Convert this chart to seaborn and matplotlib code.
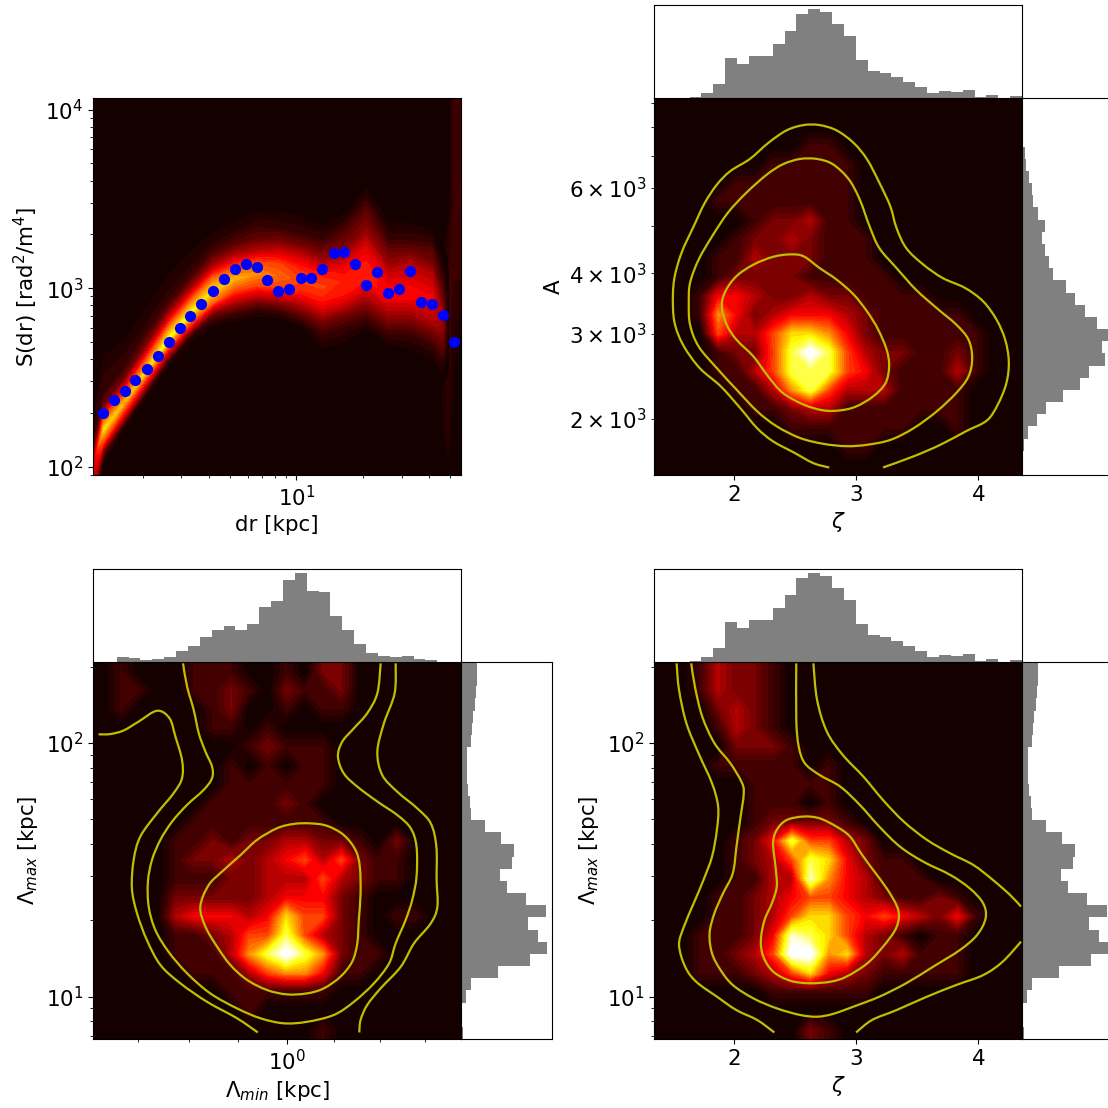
import numpy as np
import matplotlib
matplotlib.use('Agg')
import matplotlib.pyplot as plt
from matplotlib.colors import PowerNorm
from matplotlib.patches import PathPatch
from matplotlib.path import Path
from matplotlib.ticker import FixedLocator, NullFormatter
import seaborn as sns

# --- axis ranges
DR_LIM = (1.19, 55.9)
S_LIM = (89.8, 11620)
ZETA_LIM = (1.345, 4.358)
A_LIM = (1533, 9202)
LMIN_LIM = (0.173, 4.84)
LMAX_LIM = (6.81, 208.5)
LMIN_MINOR = [0.261, 0.411, 0.641, 1.53, 2.32, 3.49]

# --- structure function points
DR_POINTS = [1.326, 1.477, 1.657, 1.853, 2.085, 2.339, 2.634, 2.955, 3.292, 3.693, 4.157,
             4.663, 5.25, 5.89, 6.61, 7.36, 8.26, 9.29, 10.43, 11.7, 13.12, 14.77, 16.4,
             18.46, 20.71, 23.24, 26.06, 29.34, 32.92, 36.68, 41.28, 46.3, 51.95]
S_POINTS = [200, 236, 265, 306, 354, 415, 499, 595, 694, 814, 970, 1128, 1288, 1368, 1311,
            1113, 966, 991, 1147, 1133, 1272, 1576, 1597, 1368, 1035, 1239, 942, 991, 1250,
            839, 814, 704, 501]

# --- structure function density along its ridge: each column gives the density at
# --- RIDGE_STEPS steps (of 0.0652 dex) above and below the ridge value for that dr
RIDGE_DR = [1.19, 1.326, 1.657, 2.085, 2.634, 3.292, 4.157, 5.25, 6.61, 8.26, 10.43, 13.12,
            16.4, 20.71, 26.06, 32.92, 41.28, 46.3, 49]
RIDGE_S = [99.8, 160, 230, 346, 521, 719, 970, 1128, 1203, 1177, 1104, 1013, 1104, 1311, 1013,
           1013, 890, 700, 700]
RIDGE_STEPS = [7, 6, 5, 4, 3, 2, 1, 0, -1, -2, -3, -4, -5, -6]
RIDGE_COLS = [
    [0, 0, 0, .5, .5, 1, 2, 3, 3, 3, 2, 1, 0, 0],
    [0, .5, .5, 1, 1, 2, 5, 7, 5, 1.5, 0, 0, 0, 0],
    [0, 0, .5, .7, 1, 2, 4.5, 6.5, 4, .5, 0, 0, 0, 0],
    [0, 0, .5, .7, 1.2, 2.5, 5, 7, 4, .5, 0, 0, 0, 0],
    [0, .2, .5, .7, 1.2, 3, 5.5, 7.5, 4, .5, 0, 0, 0, 0],
    [0, 0, .5, .7, 1.2, 3, 5.5, 7.5, 4.5, .7, 0, 0, 0, 0],
    [0, 0, .3, .7, 1.5, 3, 5.5, 7, 5.5, 2, .3, 0, 0, 0],
    [0, 0, .3, .7, 1.5, 3, 5, 6.5, 5, 3, 1, 0, 0, 0],
    [0, 0, .5, 1, 1.7, 3, 5, 6, 5, 3, 1, 0, 0, 0],
    [0, .2, .5, 1, 2, 3.5, 5, 5.5, 5, 3, 1, 0, 0, 0],
    [0, .2, .5, 1, 2, 3.5, 4.5, 5, 4.5, 3, 1.5, .2, 0, 0],
    [0, 0, .5, 1, 2, 3, 4.5, 5, 4.5, 3.5, 2, 1, .5, 0],
    [0, .2, .7, 1.5, 2, 3, 4, 4.5, 4.5, 3.5, 2, 1, .5, 0],
    [.2, .7, 1.5, 2, 2.5, 3.5, 4, 4.5, 4.5, 3.5, 2.5, 1.5, .5, 0],
    [0, .2, .5, 1, 2, 2.5, 3.5, 4, 4, 3, 2, 1, .3, 0],
    [0, .2, .5, 1, 2, 3, 3.5, 4, 4, 3, 2, 1, .5, 0],
    [0, .2, .7, 1.5, 2, 3, 3.5, 4, 3.5, 3, 2, 1, .5, 0],
    [0, 0, .2, .5, 1, 1.5, 2, 2.5, 2.5, 2, 1.5, .7, .3, 0],
    [0]*14,
]
# --- faint streak at the largest separations, rows from high S to low S
STREAK_DR = [44, 49, 52, 55.9]
STREAK_S = [11620, 3000, 1500, 900, 500, 300, 150, 100, 90]
STREAK_GRID = [
    [0, 0, 1, 1],
    [0, 0, 1, 1.2],
    [0, .8, 1, 1],
    [0, 1, .8, .8],
    [0, 1, .5, .2],
    [0, .8, .2, 0],
    [0, .6, 0, 0],
    [0, .2, 0, 0],
    [0, 0, 0, 0],
]

# --- posterior densities, rows from top of the panel to the bottom
ZETA_A_GRID = [
    [0]*20,
    [0]*20,
    [0, 0, 0, 0, 0, 0, 0, 0, 1, 1, 0, 0, 0, 0, 0, 0, 0, 0, 0, 0],
    [0, 0, 0, 0, 0, 0, 1, 1, 1, 1, 1, 0, 0, 0, 0, 0, 0, 0, 0, 0],
    [0, 0, 0, 0, 1, 1, 1, 1, 1, 1, 1, 0, 0, 0, 0, 0, 0, 0, 0, 0],
    [0, 0, 0, 1, 1, 1, 1, 1, 1, 1, 1, 0, 0, 0, 0, 0, 0, 0, 0, 0],
    [0, 0, 0, 0, 0, 1, 2, 2, 3, 1, 1, 0, 0, 0, 0, 0, 0, 0, 0, 0],
    [0, 0, 0, 0, 1, 2, 2, 3, 2, 1, 1, 1, 0, 0, 0, 0, 0, 0, 0, 0],
    [0, 0, 0, 1, 1, 3, 2, 2, 2, 1, 1, 1, 0, 0, 0, 0, 0, 0, 0, 0],
    [0, 0, 0, 1, 2, 2, 2, 2, 1, 1, 1, 1, 1, 0, 0, 0, 0, 0, 0, 0],
    [0, 0, 1, 4, 4, 3, 2, 2, 3, 2, 2, 1, 1, 1, 1, 0, 0, 0, 0, 0],
    [0, 0, 1, 6, 4, 2, 3, 4, 4, 4, 3, 2, 1, 1, 1, 1, 1, 0, 0, 0],
    [0, 0, 0, 5, 3, 3, 5, 7, 7, 6, 4, 2, 1, 1, 1, 1, 1, 1, 0, 0],
    [0, 0, 0, 1, 2, 2, 5, 8, 10, 8, 5, 3, 2, 2, 1, 1, 2, 1, 0, 0],
    [0, 0, 0, 1, 1, 3, 5, 8, 8, 8, 5, 4, 2, 1, 1, 1, 3, 1, 0, 0],
    [0, 0, 0, 0, 1, 1, 3, 6, 8, 5, 3, 3, 3, 1, 1, 1, 1, 0, 0, 0],
    [0, 0, 0, 0, 0, 1, 1, 2, 3, 3, 1, 1, 1, 1, 1, 1, 1, 0, 0, 0],
    [0, 0, 0, 0, 0, 0, 0, 1, 1, 1, 1, 1, 1, 1, 0, 0, 1, 0, 0, 0],
    [0, 0, 0, 0, 0, 0, 0, 0, 0, 0, 1, 1, 0, 0, 0, 0, 0, 0, 0, 0],
    [0]*20,
]
LMIN_LMAX_GRID = [
    [0, 1, 0, 0, 0, 1, 1, 1, 0, 0, 1, 0, 2, 2, 0, 0, 0, 0, 0, 0],
    [0, 1, 1, 0, 0, 1, 1, 2, 1, 0, 2, 1, 1, 2, 0, 0, 0, 0, 0, 0],
    [0, 1, 0, 0, 0, 0, 1, 2, 0, 0, 1, 0, 1, 1, 0, 0, 0, 0, 0, 0],
    [0, 0, 0, 0, 0, 0, 1, 1, 0, 1, 0, 0, 0, 0, 0, 0, 0, 0, 0, 0],
    [0, 0, 0, 0, 0, 0, 0, 0, 1, 2, 1, 1, 1, 0, 0, 0, 0, 0, 0, 0],
    [0, 0, 0, 0, 0, 0, 0, 1, 0, 1, 0, 1, 1, 0, 0, 0, 0, 0, 0, 0],
    [0, 0, 0, 0, 0, 0, 0, 1, 1, 1, 1, 1, 1, 0, 0, 0, 0, 0, 0, 0],
    [0, 0, 0, 0, 0, 0, 1, 1, 1, 1, 2, 1, 0, 0, 0, 0, 0, 0, 0, 0],
    [0, 0, 0, 0, 0, 1, 1, 1, 1, 1, 1, 1, 1, 0, 0, 0, 0, 0, 0, 0],
    [0, 0, 0, 0, 1, 1, 2, 1, 2, 2, 3, 3, 2, 2, 1, 0, 2, 0, 0, 0],
    [0, 0, 0, 0, 1, 2, 2, 3, 2, 3, 4, 5, 3, 5, 2, 1, 1, 0, 0, 0],
    [0, 0, 0, 0, 1, 1, 1, 2, 2, 3, 3, 3, 5, 3, 2, 1, 1, 0, 0, 0],
    [0, 0, 0, 0, 2, 2, 2, 2, 2, 3, 4, 4, 4, 2, 1, 0, 0, 0, 0, 0],
    [0, 0, 0, 0, 3, 4, 4, 4, 3, 4, 7, 5, 5, 2, 1, 0, 1, 1, 0, 0],
    [0, 0, 0, 0, 1, 1, 2, 3, 5, 5, 8, 5, 3, 2, 1, 0, 0, 0, 0, 0],
    [0, 0, 0, 0, 1, 1, 1, 3, 6, 8, 10, 8, 6, 2, 1, 1, 0, 0, 0, 0],
    [0, 0, 0, 0, 0, 1, 1, 1, 3, 5, 6, 6, 4, 1, 1, 0, 0, 0, 0, 0],
    [0, 0, 0, 0, 0, 0, 0, 1, 1, 1, 1, 1, 1, 0, 0, 0, 0, 0, 0, 0],
    [0, 0, 0, 0, 0, 0, 0, 0, 1, 0, 0, 0, 0, 0, 0, 0, 0, 0, 0, 0],
    [0, 0, 0, 0, 0, 0, 0, 0, 0, 0, 0, 0, 1, 0, 0, 0, 0, 0, 0, 0],
]
ZETA_LMAX_GRID = [
    [0, 0, 1, 3, 2, 2, 1, 0, 0, 0, 0, 0, 0, 0, 0, 0, 0, 0, 0, 0],
    [0, 0, 1, 3, 2, 2, 1, 0, 0, 0, 0, 0, 0, 0, 0, 0, 0, 0, 0, 0],
    [0, 0, 0, 2, 3, 2, 1, 0, 0, 0, 0, 0, 0, 0, 0, 0, 0, 0, 0, 0],
    [0, 0, 0, 1, 3, 2, 1, 0, 0, 0, 0, 0, 0, 0, 0, 0, 0, 0, 0, 0],
    [0, 0, 0, 0, 2, 2, 2, 1, 0, 0, 0, 0, 0, 0, 0, 0, 0, 0, 0, 0],
    [0, 0, 0, 1, 1, 1, 1, 1, 0, 1, 0, 0, 0, 0, 0, 0, 0, 0, 0, 0],
    [0, 0, 0, 0, 0, 1, 1, 1, 1, 1, 0, 0, 0, 0, 0, 0, 0, 0, 0, 0],
    [0, 0, 0, 0, 0, 1, 1, 1, 0, 1, 0, 0, 0, 0, 0, 0, 0, 0, 0, 0],
    [0, 0, 0, 0, 0, 1, 2, 2, 2, 2, 1, 0, 0, 0, 0, 0, 0, 0, 0, 0],
    [0, 0, 0, 0, 1, 2, 4, 8, 5, 5, 3, 2, 0, 0, 0, 0, 0, 0, 0, 0],
    [0, 0, 0, 0, 1, 2, 3, 5, 8, 7, 4, 2, 1, 1, 0, 0, 0, 0, 0, 0],
    [0, 0, 0, 0, 1, 1, 3, 3, 9, 6, 4, 3, 1, 1, 1, 0, 0, 0, 0, 0],
    [0, 0, 0, 1, 1, 2, 3, 4, 5, 5, 4, 3, 2, 1, 1, 2, 1, 0, 0, 0],
    [0, 0, 0, 1, 1, 2, 3, 5, 7, 7, 5, 4, 5, 4, 3, 2, 4, 1, 0, 0],
    [0, 0, 1, 1, 1, 2, 4, 9, 8, 7, 5, 3, 2, 1, 0, 1, 1, 0, 0, 0],
    [0, 0, 1, 1, 2, 3, 5, 10, 10, 6, 7, 3, 2, 3, 1, 1, 1, 0, 0, 0],
    [0, 0, 1, 1, 1, 2, 3, 5, 7, 4, 3, 2, 1, 1, 1, 1, 1, 0, 0, 0],
    [0, 0, 0, 0, 0, 0, 1, 1, 1, 1, 1, 1, 0, 0, 0, 0, 0, 0, 0, 0],
    [0]*20,
    [0, 0, 0, 0, 0, 0, 0, 0, 2, 1, 0, 0, 0, 0, 0, 0, 0, 0, 0, 0],
]

# --- marginal histograms
ZETA_HIST = [0, 0, 1, 4, 15, 42, 119, 102, 125, 125, 162, 202, 252, 266, 259, 222, 185, 115, 82,
             76, 62, 48, 32, 14, 22, 19, 25, 4, 8, 1, 5]
LMIN_HIST = [0, 0, 15, 11, 7, 9, 16, 32, 49, 75, 96, 109, 95, 113, 165, 183, 246, 266, 213, 209,
             139, 96, 55, 28, 18, 15, 19, 10, 6, 1, 0]
# these two run from the top of the panel down
LMAX_HIST = [48, 48, 46, 42, 35, 32, 31, 18, 19, 19, 22, 27, 31, 72, 121, 159, 155, 117, 139, 196,
             255, 201, 231, 259, 209, 111, 31, 15, 0, 0, 7]
A_HIST = [0, 0, 0, 3, 8, 13, 22, 31, 32, 49, 68, 61, 68, 82, 92, 132, 160, 190, 225, 265, 240,
          250, 202, 175, 122, 72, 45, 18, 7, 3, 0]

# --- credible contours, zeta vs log10(A)
ZA_INNER_Z = [1.90, 1.93, 2.02, 2.16, 2.32, 2.46, 2.57, 2.70, 2.84, 2.98, 3.09, 3.18, 3.25, 3.27,
              3.24, 3.14, 3.00, 2.87, 2.73, 2.57, 2.40, 2.28, 2.16, 2.02, 1.94, 1.90]
ZA_INNER_A = [3.534, 3.565, 3.596, 3.620, 3.636, 3.641, 3.637, 3.613, 3.589, 3.558, 3.523, 3.486,
              3.444, 3.410, 3.375, 3.348, 3.327, 3.319, 3.319, 3.331, 3.355, 3.389, 3.430, 3.465,
              3.496, 3.534]
ZA_MID_Z = [1.63, 1.64, 1.71, 1.82, 1.95, 2.10, 2.27, 2.40, 2.54, 2.68, 2.81, 2.94, 3.03, 3.11,
            3.19, 3.33, 3.49, 3.66, 3.82, 3.92, 3.95, 3.92, 3.82, 3.66, 3.47, 3.28, 3.09, 2.92,
            2.73, 2.54, 2.35, 2.19, 2.02, 1.86, 1.71, 1.64, 1.63]
ZA_MID_A = [3.541, 3.582, 3.630, 3.678, 3.727, 3.768, 3.806, 3.827, 3.838, 3.838, 3.827, 3.796,
            3.754, 3.699, 3.654, 3.613, 3.568, 3.530, 3.496, 3.465, 3.427, 3.389, 3.355, 3.317,
            3.282, 3.258, 3.248, 3.245, 3.250, 3.262, 3.286, 3.317, 3.362, 3.406, 3.451, 3.496,
            3.541]
ZA_OUTER_Z = [2.78, 2.65, 2.49, 2.32, 2.19, 2.05, 1.89, 1.72, 1.59, 1.52, 1.50, 1.51, 1.57, 1.67,
              1.76, 1.86, 1.97, 2.13, 2.28, 2.43, 2.57, 2.70, 2.84, 2.98, 3.09, 3.19, 3.28, 3.33,
              3.41, 3.55, 3.71, 3.89, 4.04, 4.15, 4.22, 4.25, 4.23, 4.16, 4.07, 3.90, 3.69, 3.47,
              3.22]
ZA_OUTER_A = [3.201, 3.210, 3.232, 3.255, 3.282, 3.324, 3.369, 3.406, 3.451, 3.493, 3.534, 3.589,
              3.644, 3.699, 3.747, 3.785, 3.813, 3.838, 3.871, 3.897, 3.908, 3.908, 3.897, 3.871,
              3.837, 3.789, 3.740, 3.696, 3.654, 3.620, 3.592, 3.572, 3.544, 3.506, 3.465, 3.420,
              3.375, 3.331, 3.298, 3.276, 3.248, 3.224, 3.201]

# --- credible contours, log10(Lambda_min) vs log10(Lambda_max)
LL_INNER_MIN = [-.340, -.307, -.248, -.182, -.117, -.038, .028, .093, .159, .224, .270, .287, .290,
                .283, .277, .257, .211, .146, .080, .001, -.077, -.156, -.222, -.274, -.320, -.340]
LL_INNER_MAX = [1.355, 1.440, 1.499, 1.558, 1.618, 1.664, 1.681, 1.683, 1.673, 1.637, 1.578, 1.512,
                1.407, 1.302, 1.210, 1.138, 1.079, 1.033, 1.013, 1.009, 1.026, 1.066, 1.125, 1.197,
                1.276, 1.355]
LL_MID_MIN = [-.408, -.392, -.366, -.346, -.320, -.294, -.294, -.327, -.392, -.451, -.497, -.530,
              -.546, -.543, -.517, -.465, -.392, -.301, -.196, -.104, -.012, .080, .185, .264, .343,
              .402, .428, .467, .493, .510, .510, .487, .434, .356, .277, .224, .201, .218, .264,
              .316, .356, .369]
LL_MID_MAX = [2.314, 2.222, 2.130, 2.038, 1.966, 1.907, 1.861, 1.815, 1.756, 1.690, 1.618, 1.539,
              1.453, 1.355, 1.263, 1.177, 1.092, 1.013, .954, .915, .895, .901, .928, .980, 1.053,
              1.131, 1.210, 1.302, 1.381, 1.473, 1.591, 1.664, 1.716, 1.769, 1.828, 1.880, 1.946,
              2.005, 2.058, 2.117, 2.196, 2.314]
LL_LEFT_MIN = [-.740, -.694, -.642, -.583, -.510, -.461, -.438, -.412, -.412, -.445, -.510, -.576,
               -.602, -.609, -.589, -.550, -.497, -.419, -.314, -.196, -.114]
LL_LEFT_MAX = [2.034, 2.035, 2.049, 2.084, 2.127, 2.097, 2.025, 1.933, 1.861, 1.802, 1.723, 1.631,
               1.539, 1.427, 1.329, 1.223, 1.125, 1.053, .980, .915, .859]
LL_RIGHT_MIN = [.428, .424, .382, .356, .375, .434, .513, .566, .588, .589, .592, .566, .500, .448,
                .369, .316, .290, .285]
LL_RIGHT_MAX = [2.314, 2.196, 2.078, 1.966, 1.874, 1.808, 1.742, 1.683, 1.591, 1.460, 1.355, 1.289,
                1.210, 1.118, 1.033, .967, .908, .859]

# --- credible contours, zeta vs log10(Lambda_max)
ZL_INNER_Z = [2.32, 2.35, 2.43, 2.57, 2.70, 2.84, 2.95, 3.04, 3.14, 3.25, 3.33, 3.35, 3.32, 3.22,
              3.09, 2.92, 2.79, 2.62, 2.46, 2.32, 2.24, 2.22, 2.25, 2.31, 2.35, 2.34, 2.32]
ZL_INNER_L = [1.604, 1.657, 1.696, 1.710, 1.703, 1.670, 1.631, 1.565, 1.499, 1.427, 1.361, 1.315,
              1.263, 1.197, 1.131, 1.079, 1.059, 1.053, 1.063, 1.099, 1.158, 1.223, 1.302, 1.368,
              1.434, 1.512, 1.604]
ZL_MID_Z = [1.65, 1.68, 1.74, 1.84, 1.97, 2.06, 2.08, 2.05, 2.02, 1.99, 1.91, 1.84, 1.80, 1.82,
            1.89, 1.99, 2.16, 2.35, 2.54, 2.68, 2.81, 2.98, 3.19, 3.41, 3.63, 3.85, 3.99, 4.06,
            4.04, 3.93, 3.77, 3.55, 3.36, 3.19, 3.03, 2.87, 2.70, 2.58, 2.53, 2.51, 2.51]
ZL_MID_L = [2.314, 2.222, 2.104, 1.999, 1.920, 1.848, 1.802, 1.696, 1.591, 1.486, 1.407, 1.329,
            1.250, 1.171, 1.105, 1.046, .993, .954, .928, .921, .932, .961, 1.000, 1.053, 1.118,
            1.184, 1.243, 1.309, 1.368, 1.427, 1.480, 1.532, 1.591, 1.670, 1.756, 1.828, 1.874,
            1.920, 1.986, 2.091, 2.314]
ZL_LEFT_Z = [1.53, 1.55, 1.61, 1.71, 1.82, 1.87, 1.86, 1.82, 1.75, 1.67, 1.59, 1.55, 1.60, 1.69,
             1.86, 2.02, 2.19, 2.33]
ZL_LEFT_L = [2.314, 2.209, 2.078, 1.959, 1.841, 1.749, 1.657, 1.552, 1.460, 1.368, 1.276, 1.204,
             1.118, 1.059, 1.000, .947, .908, .859]
ZL_RIGHT_Z = [2.65, 2.68, 2.76, 2.89, 3.06, 3.22, 3.39, 3.58, 3.77, 3.96, 4.12, 4.26, 4.35]
ZL_RIGHT_L = [2.314, 2.170, 2.045, 1.953, 1.867, 1.775, 1.690, 1.618, 1.565, 1.519, 1.460, 1.401,
              1.355]
ZL_BOTTOM_Z = [3.00, 3.13, 3.33, 3.58, 3.82, 4.04, 4.20, 4.35]
ZL_BOTTOM_L = [.859, .908, .947, 1.000, 1.046, 1.085, 1.138, 1.217]

FIG_PX = 1108
RIDGE_DEX = 0.0652
BASE_COLOR = plt.get_cmap('hot')(0.016)
HEAT_NORM = PowerNorm(gamma=1.25, vmin=-0.2, vmax=9.5)


def px_axes(fig, left, top, right, bottom):
    """Add axes from pixel edges measured from the top left corner."""
    return fig.add_axes([left / FIG_PX, 1 - bottom / FIG_PX,
                         (right - left) / FIG_PX, (bottom - top) / FIG_PX])


def cell_centres(lim, n, log=False):
    """Centres of n equal cells over an axis range."""
    if log:
        edges = np.linspace(np.log10(lim[0]), np.log10(lim[1]), n + 1)
        return 10 ** ((edges[:-1] + edges[1:]) / 2)
    edges = np.linspace(lim[0], lim[1], n + 1)
    return (edges[:-1] + edges[1:]) / 2


def draw_density(ax, x, y, grid, xlim, ylim, xlog):
    """Filled contours of a grid of cell values, held flat out to the axes edges."""
    ax.set_facecolor(BASE_COLOR)
    if xlog:
        ax.set_xscale('log')
    ax.set_yscale('log')
    x = np.concatenate([[xlim[0]], x, [xlim[1]]])
    y = np.concatenate([[ylim[1]], y, [ylim[0]]])
    values = np.pad(np.array(grid, dtype=float), 1, mode='edge')
    ax.contourf(x, y, values, levels=np.linspace(0, 9.5, 30), cmap='hot', norm=HEAT_NORM,
                extend='max')
    ax.set_xlim(xlim)
    ax.set_ylim(ylim)


def draw_line(ax, x, y):
    """Draw one contour as a curve through its points, bending in the axes' scaled space."""
    fwd_x, fwd_y = ax.xaxis.get_transform(), ax.yaxis.get_transform()
    pts = np.column_stack([fwd_x.transform(np.asarray(x, dtype=float)),
                           fwd_y.transform(np.asarray(y, dtype=float))])
    closed = np.allclose(pts[0], pts[-1])
    n = len(pts)
    verts, codes = [pts[0]], [Path.MOVETO]
    for i in range(n - 1):
        if closed:
            before, after = pts[(i - 1) % (n - 1)], pts[(i + 2) % (n - 1)]
        else:
            before, after = pts[max(i - 1, 0)], pts[min(i + 2, n - 1)]
        verts += [pts[i] + (pts[i + 1] - before) / 6, pts[i + 1] - (after - pts[i]) / 6, pts[i + 1]]
        codes += [Path.CURVE4] * 3
    verts = np.array(verts)
    verts = np.column_stack([fwd_x.inverted().transform(verts[:, 0]),
                             fwd_y.inverted().transform(verts[:, 1])])
    ax.add_patch(PathPatch(Path(verts, codes), fill=False, edgecolor='y', linewidth=1.6, zorder=3))


def top_hist(ax, counts, lim, log=False):
    binrange = (np.log10(lim[0]), np.log10(lim[1])) if log else lim
    sns.histplot(x=cell_centres(lim, len(counts), log), weights=counts, bins=len(counts),
                 binrange=binrange, log_scale=(log, False), color='gray', alpha=1,
                 linewidth=0, ax=ax)
    ax.set_xlim(lim)
    ax.set_ylim(0, 279)
    ax.set_xlabel('')
    ax.set_ylabel('')
    ax.minorticks_off()
    ax.tick_params(left=False, bottom=False, labelleft=False, labelbottom=False, which='both')


def right_hist(ax, counts, lim):
    binrange = (np.log10(lim[0]), np.log10(lim[1]))
    sns.histplot(y=cell_centres(lim, len(counts), True), weights=counts[::-1], bins=len(counts),
                 binrange=binrange, log_scale=(False, True), color='gray', alpha=1,
                 linewidth=0, ax=ax)
    ax.set_ylim(lim)
    ax.set_xlim(0, 274)
    ax.set_xlabel('')
    ax.set_ylabel('')
    ax.minorticks_off()
    ax.tick_params(left=False, bottom=False, labelleft=False, labelbottom=False, which='both')


plt.rcParams['font.size'] = 15.4
plt.rcParams['axes.labelsize'] = 15.4
plt.rcParams['xtick.labelsize'] = 15.4
plt.rcParams['ytick.labelsize'] = 15.4

fig = plt.figure(figsize=(FIG_PX / 100, FIG_PX / 100), dpi=100)

# top left: structure function
ax_sf = px_axes(fig, 93, 98, 461, 475)
ax_sf.set_facecolor(BASE_COLOR)
ax_sf.set_xscale('log')
ax_sf.set_yscale('log')
ax_sf.contourf(STREAK_DR, STREAK_S, np.array(STREAK_GRID), levels=np.linspace(0.03, 2, 8),
               cmap='hot', norm=HEAT_NORM)
ridge_x = np.tile(RIDGE_DR, (len(RIDGE_STEPS), 1))
ridge_y = np.outer(10 ** (np.array(RIDGE_STEPS) * RIDGE_DEX), RIDGE_S)
ax_sf.contourf(ridge_x, ridge_y, np.array(RIDGE_COLS, dtype=float).T,
               levels=np.linspace(0.03, 9.5, 30), cmap='hot', norm=HEAT_NORM, extend='max')
sns.scatterplot(x=DR_POINTS, y=S_POINTS, color='blue', s=65, linewidth=0, ax=ax_sf, zorder=5)
ax_sf.set_xlim(DR_LIM)
ax_sf.set_ylim(S_LIM)
ax_sf.set_xlabel('dr [kpc]')
ax_sf.set_ylabel('S(dr) [rad$^2$/m$^4$]')

# top right: zeta vs A
ax_za = px_axes(fig, 654, 98, 1022, 475)
draw_density(ax_za, cell_centres(ZETA_LIM, 20), cell_centres(A_LIM, 20, True)[::-1], ZETA_A_GRID,
             ZETA_LIM, A_LIM, False)
draw_line(ax_za, ZA_INNER_Z, 10 ** np.array(ZA_INNER_A))
draw_line(ax_za, ZA_MID_Z, 10 ** np.array(ZA_MID_A))
draw_line(ax_za, ZA_OUTER_Z, 10 ** np.array(ZA_OUTER_A))
ax_za.set_xlabel(r'$\zeta$')
ax_za.set_ylabel('A')
top_hist(px_axes(fig, 654, 5, 1022, 98), ZETA_HIST, ZETA_LIM)
right_hist(px_axes(fig, 1022, 98, 1113, 475), A_HIST, A_LIM)

# bottom left: Lambda_min vs Lambda_max
ax_ll = px_axes(fig, 93, 662, 461, 1039)
draw_density(ax_ll, cell_centres(LMIN_LIM, 20, True), cell_centres(LMAX_LIM, 20, True)[::-1],
             LMIN_LMAX_GRID, LMIN_LIM, LMAX_LIM, True)
draw_line(ax_ll, 10 ** np.array(LL_INNER_MIN), 10 ** np.array(LL_INNER_MAX))
draw_line(ax_ll, 10 ** np.array(LL_MID_MIN), 10 ** np.array(LL_MID_MAX))
draw_line(ax_ll, 10 ** np.array(LL_LEFT_MIN), 10 ** np.array(LL_LEFT_MAX))
draw_line(ax_ll, 10 ** np.array(LL_RIGHT_MIN), 10 ** np.array(LL_RIGHT_MAX))
ax_ll.xaxis.set_minor_locator(FixedLocator(LMIN_MINOR))
ax_ll.xaxis.set_minor_formatter(NullFormatter())
ax_ll.set_xlabel(r'$\Lambda_{min}$ [kpc]')
ax_ll.set_ylabel(r'$\Lambda_{max}$ [kpc]')
top_hist(px_axes(fig, 93, 569, 461, 662), LMIN_HIST, LMIN_LIM, log=True)
right_hist(px_axes(fig, 461, 662, 552, 1039), LMAX_HIST, LMAX_LIM)

# bottom right: zeta vs Lambda_max
ax_zl = px_axes(fig, 654, 662, 1022, 1039)
draw_density(ax_zl, cell_centres(ZETA_LIM, 20), cell_centres(LMAX_LIM, 20, True)[::-1],
             ZETA_LMAX_GRID, ZETA_LIM, LMAX_LIM, False)
draw_line(ax_zl, ZL_INNER_Z, 10 ** np.array(ZL_INNER_L))
draw_line(ax_zl, ZL_MID_Z, 10 ** np.array(ZL_MID_L))
draw_line(ax_zl, ZL_LEFT_Z, 10 ** np.array(ZL_LEFT_L))
draw_line(ax_zl, ZL_RIGHT_Z, 10 ** np.array(ZL_RIGHT_L))
draw_line(ax_zl, ZL_BOTTOM_Z, 10 ** np.array(ZL_BOTTOM_L))
ax_zl.set_xlabel(r'$\zeta$')
ax_zl.set_ylabel(r'$\Lambda_{max}$ [kpc]')
top_hist(px_axes(fig, 654, 569, 1022, 662), ZETA_HIST, ZETA_LIM)
right_hist(px_axes(fig, 1022, 662, 1113, 1039), LMAX_HIST, LMAX_LIM)

fig.savefig('out.png', dpi=100)
